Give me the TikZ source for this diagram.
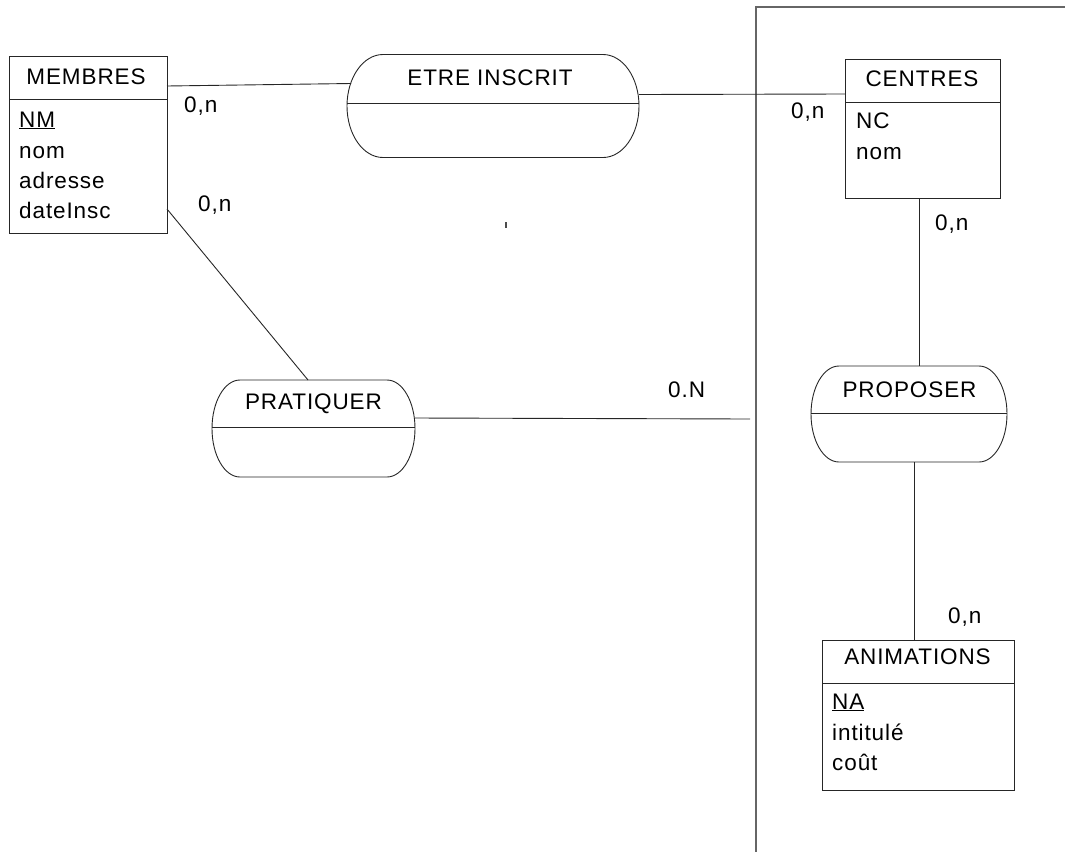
\documentclass[tikz,border=0pt]{standalone}
\usepackage{fontspec}
\setmainfont{Liberation Sans}[LetterSpace=4]
\usetikzlibrary{calc}
\tikzset{
  ln/.style={draw=black!85, line width=0.9pt},
  bnd/.style={draw=black!60, line width=1.2pt},
  box/.style={ln, inner sep=0pt, outer sep=0pt},
  rel/.style={inner sep=0pt, outer sep=0pt},
  lbl/.style={font=\fontsize{22.5}{26}\selectfont, inner sep=0pt, anchor=base},
  attr/.style={lbl, anchor=base west},
}
% outline of a relation: node name, x radius, y radius of the corners
\newcommand\ershape[3]{%
  \draw[ln] ([xshift=#2pt]#1.north west) -- ([xshift=-#2pt]#1.north east)
    .. controls +(0.552*#2pt,0pt) and +(0pt,0.552*#3pt) .. ([yshift=-#3pt]#1.north east)
    -- ([yshift=#3pt]#1.south east)
    .. controls +(0pt,-0.552*#3pt) and +(0.552*#2pt,0pt) .. ([xshift=-#2pt]#1.south east)
    -- ([xshift=#2pt]#1.south west)
    .. controls +(-0.552*#2pt,0pt) and +(0pt,-0.552*#3pt) .. ([yshift=#3pt]#1.south west)
    -- ([yshift=-#3pt]#1.north west)
    .. controls +(0pt,0.552*#3pt) and +(-0.552*#2pt,0pt) .. ([xshift=#2pt]#1.north west);}
\begin{document}
\begin{tikzpicture}[x=1pt,y=-1pt]
\useasboundingbox (0,0) rectangle (1065,852);

% boundary
\coordinate (btr) at (1065,7);
\coordinate (btl) at (756,7);
\coordinate (bbot) at (756,852);
\draw[bnd] (btr) -- (btl) -- (bbot);

% entities
\node[box, minimum width=158pt, minimum height=177pt] (membres) at (88,144.5) {};
\draw[ln] ([yshift=-43pt]membres.north west) -- ([yshift=-43pt]membres.north east);
\node[lbl] (membres-t) at (86,84) {MEMBRES};
\node[attr] (membres-a1) at (19,127) {\underline{NM}};
\node[attr] (membres-a2) at (19,158) {nom};
\node[attr] (membres-a3) at (19,188) {adresse};
\node[attr] (membres-a4) at (19,218) {dateInsc};

\node[box, minimum width=155pt, minimum height=139pt] (centres) at (922.5,128.5) {};
\draw[ln] ([yshift=-43pt]centres.north west) -- ([yshift=-43pt]centres.north east);
\node[lbl] (centres-t) at (922,86) {CENTRES};
\node[attr] (centres-a1) at (856,128) {NC};
\node[attr] (centres-a2) at (856,159) {nom};

\node[box, minimum width=192pt, minimum height=150pt] (animations) at (918,715) {};
\draw[ln] ([yshift=-43pt]animations.north west) -- ([yshift=-43pt]animations.north east);
\node[lbl] (animations-t) at (917.5,664) {ANIMATIONS};
\node[attr] (animations-a1) at (832,709) {\underline{NA}};
\node[attr] (animations-a2) at (832,740) {intitulé};
\node[attr] (animations-a3) at (832,770) {coût};

% relations
\node[rel, minimum width=292pt, minimum height=103pt] (etre) at (493,106) {};
\ershape{etre}{36}{51.5}
\draw[ln] ([yshift=-49pt]etre.north west) -- ([yshift=-49pt]etre.north east);
\node[lbl] (etre-t) at (490,85) {ETRE INSCRIT};

\node[rel, minimum width=203pt, minimum height=97pt] (pratiquer) at (313.5,428.5) {};
\ershape{pratiquer}{28}{48.5}
\draw[ln] ([yshift=-47pt]pratiquer.north west) -- ([yshift=-47pt]pratiquer.north east);
\node[lbl] (pratiquer-t) at (313.5,409) {PRATIQUER};

\node[rel, minimum width=196pt, minimum height=96pt] (proposer) at (909,414) {};
\ershape{proposer}{28}{48}
\draw[ln] ([yshift=-47pt]proposer.north west) -- ([yshift=-47pt]proposer.north east);
\node[lbl] (proposer-t) at (909.5,397) {PROPOSER};

% connectors
\draw[ln] ([yshift=-30pt]membres.north east) -- ([xshift=4pt,yshift=-29pt]etre.north west);
\draw[ln] ([yshift=-40pt]etre.north east) -- ([yshift=-35pt]centres.north west);
\draw[ln] ([yshift=-153pt]membres.north east) -- ([xshift=-5.5pt]pratiquer.north);
\coordinate (pend) at (750,419);
\draw[ln] ([yshift=-38pt]pratiquer.north east) -- (pend);
\draw[ln] ([xshift=-3.5pt]centres.south) -- ([xshift=10pt]proposer.north);
\draw[ln] ([xshift=5pt]proposer.south) -- ([xshift=-4pt]animations.north);

% cardinalities
\node[attr] (c1) at (184,112) {0,n};
\node[attr] (c2) at (198,211) {0,n};
\node[attr] (c3) at (791,118) {0,n};
\node[attr] (c4) at (935,230) {0,n};
\node[attr] (c5) at (668,397) {0.N};
\node[attr] (c6) at (948,623) {0,n};

% stray mark
\draw[line width=1.6pt, black!70] (506,222) -- (506,228);
\end{tikzpicture}
\end{document}
